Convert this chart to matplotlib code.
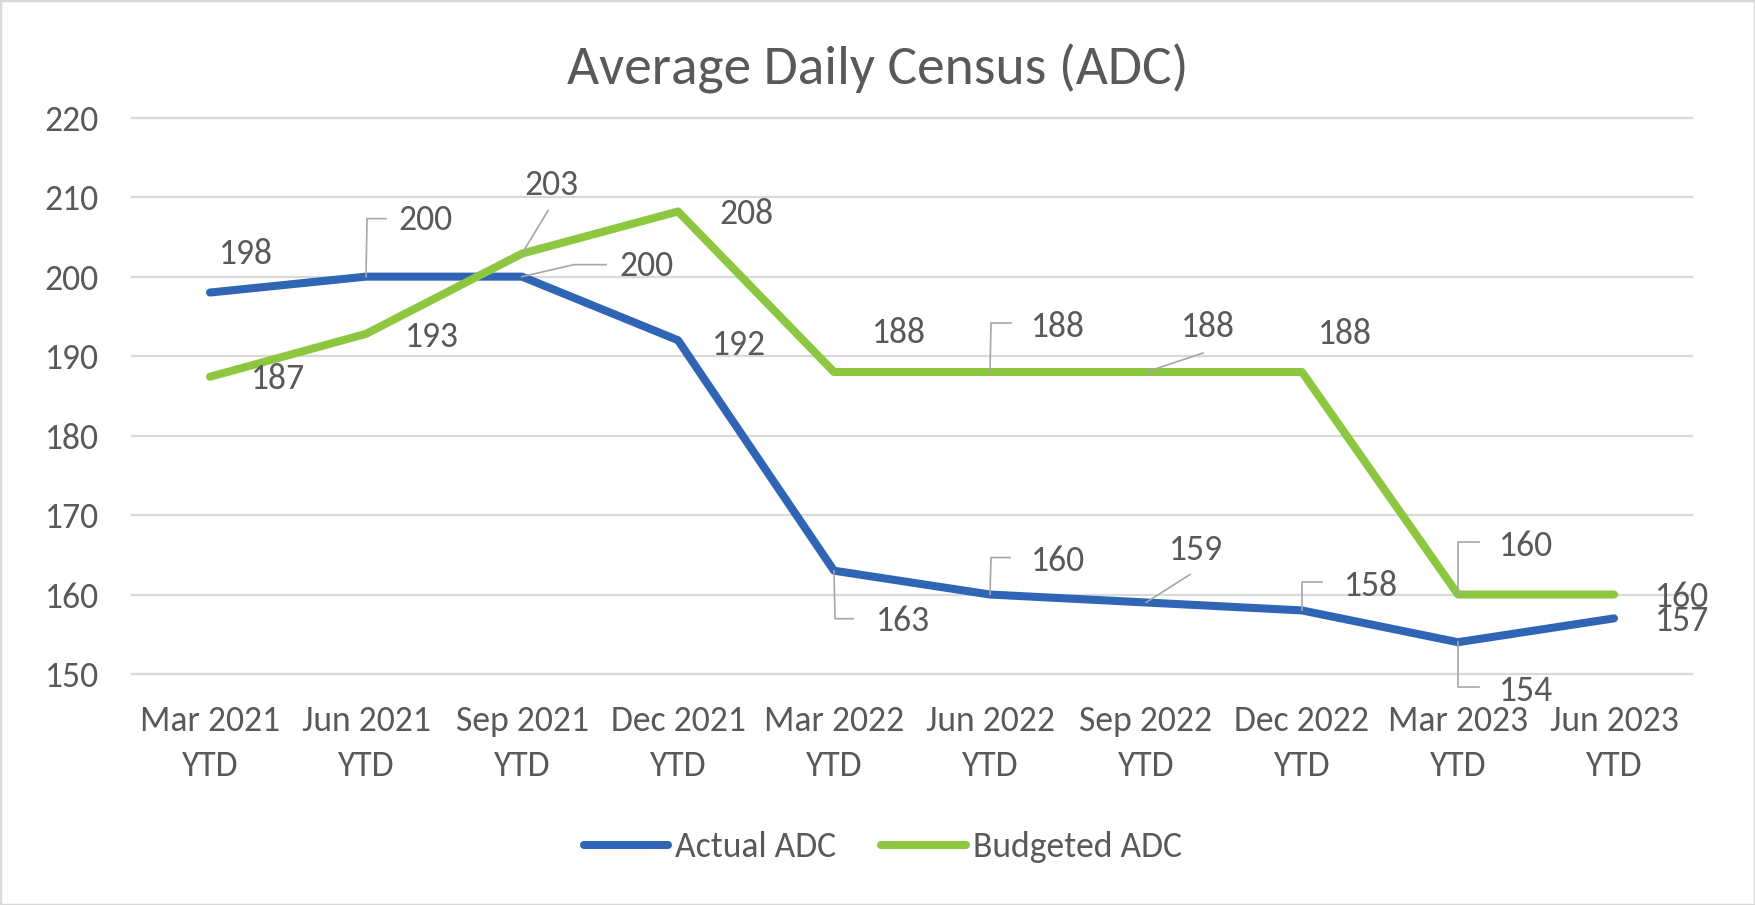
import matplotlib
matplotlib.use("Agg")
import matplotlib.pyplot as plt
from matplotlib.lines import Line2D
from matplotlib.patches import Rectangle
from matplotlib.transforms import IdentityTransform

plt.rcParams['font.family'] = ['Carlito', 'Liberation Sans Narrow', 'Liberation Sans', 'DejaVu Sans']

# ---- data ----
categories = ["Mar 2021\nYTD", "Jun 2021\nYTD", "Sep 2021\nYTD", "Dec 2021\nYTD",
              "Mar 2022\nYTD", "Jun 2022\nYTD", "Sep 2022\nYTD", "Dec 2022\nYTD",
              "Mar 2023\nYTD", "Jun 2023\nYTD"]
actual_adc = [198, 200, 200, 192, 163, 160, 159, 158, 154, 157]
budget_adc = [187.4, 192.8, 202.9, 208.2, 188, 188, 188, 188, 160, 160]
y_ticks = [150, 160, 170, 180, 190, 200, 210, 220]
series_names = ["Actual ADC", "Budgeted ADC"]
title = "Average Daily Census (ADC)"

# ---- style ----
BLUE = "#3065B5"
GREEN = "#8DC63F"
TXT = "#595959"
GRID = "#D9D9D9"
LEADER = "#A6A6A6"
FS = 25.7

# label offsets (pixels, text center relative to point) and leader polylines
actual_lbl = [(36, 40), (59, 58), (124, 12), (61, -3), (69, -49),
              (68, 35), (50, 54), (69, 26), (68, -47), (68, -1)]
actual_lead = {1: [(0, 0), (1, 58), (20, 58)],
               2: [(0, 0), (52, 12), (84, 12)],
               4: [(0, 0), (1, -48), (19, -48)],
               5: [(0, 0), (1, 37), (20, 37)],
               6: [(0, 0), (44, 28)],
               7: [(0, 0), (0, 28), (20, 28)],
               8: [(0, 0), (0, -45), (21, -45)]}
budget_lbl = [(68, -1), (66, -2), (29, 70), (68, -1), (65, 41),
              (68, 47), (62, 47), (43, 40), (68, 50), (68, -1)]
budget_lead = {2: [(0, 0), (26, 43)],
               5: [(0, 0), (1, 49), (21, 49)],
               6: [(0, 0), (57, 19)],
               8: [(0, 0), (0, 53), (21, 53)]}

W, H = 1755, 905
fig = plt.figure(figsize=(W / 100, H / 100), dpi=100)
ax = fig.add_axes([132 / W, 1 - 674 / H, 1560 / W, (674 - 117.7) / H])

x = list(range(len(categories)))
ax.plot(x, actual_adc, color=BLUE, lw=5.8, solid_capstyle='round',
        solid_joinstyle='round', zorder=3, label=series_names[0])
ax.plot(x, budget_adc, color=GREEN, lw=5.8, solid_capstyle='round',
        solid_joinstyle='round', zorder=4, label=series_names[1])

ax.set_xlim(-0.5, len(categories) - 0.5)
ax.set_ylim(y_ticks[0], y_ticks[-1])
ax.set_yticks(y_ticks)
ax.set_yticklabels([str(t) for t in y_ticks])
ax.set_xticks(x)
ax.set_xticklabels(categories, linespacing=1.5)
ax.tick_params(axis='y', length=0, pad=24, labelsize=FS, labelcolor=TXT)
ax.tick_params(axis='x', length=0, pad=22, labelsize=FS, labelcolor=TXT)
for s in ax.spines.values():
    s.set_visible(False)
ax.yaxis.grid(True, color=GRID, lw=1.6)
for gl in ax.get_ygridlines():
    gl.set_clip_on(False)
ax.set_axisbelow(True)

fig.canvas.draw()


def add_labels(vals, offs, leads):
    for i, v in enumerate(vals):
        dx, dy = offs[i]
        ax.annotate(f"{round(v):d}", xy=(i, v), xytext=(dx, dy - 11.5),
                    textcoords='offset pixels', ha='center', va='baseline',
                    fontsize=FS, color=TXT, zorder=6)
        if i in leads:
            bx, by = ax.transData.transform((i, v))
            xs = [bx + p[0] for p in leads[i]]
            ys = [by + p[1] for p in leads[i]]
            fig.add_artist(Line2D(xs, ys, transform=IdentityTransform(),
                                  color=LEADER, lw=1.2, zorder=2))


add_labels(actual_adc, actual_lbl, actual_lead)
add_labels(budget_adc, budget_lbl, budget_lead)

fig.text(0.5, 1 - 85 / H, title, ha='center', va='baseline',
         fontsize=40, color=TXT)

fig.legend(loc='center', bbox_to_anchor=(0.503, 1 - 847 / H), ncol=2,
           frameon=False, fontsize=FS, labelcolor=TXT, handlelength=2.37,
           handletextpad=0.2, columnspacing=1.25)

fig.patches.append(Rectangle((0, 0), 1, 1, transform=fig.transFigure,
                             fill=False, edgecolor=GRID, lw=2.5))

fig.savefig("out.png", dpi=100)
